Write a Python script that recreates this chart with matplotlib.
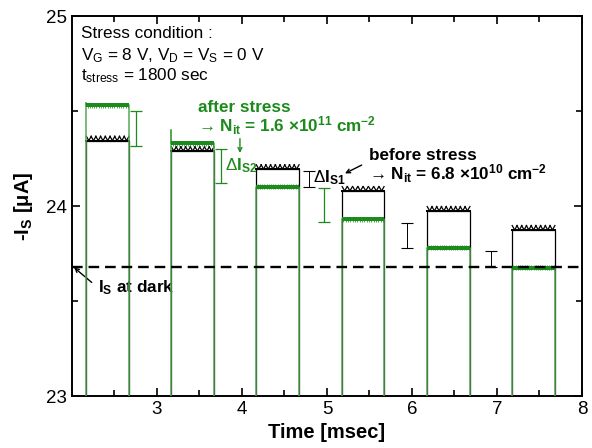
import numpy as np
import matplotlib
matplotlib.use("Agg")
import matplotlib.pyplot as plt
from matplotlib import patheffects as pe

plt.rcParams['font.family'] = ['Liberation Sans', 'DejaVu Sans']
plt.rcParams['mathtext.fontset'] = 'custom'
plt.rcParams['mathtext.rm'] = 'Liberation Sans'
plt.rcParams['mathtext.it'] = 'Liberation Sans:italic'
plt.rcParams['mathtext.bf'] = 'Liberation Sans:bold'

# ---- data ----
pulse_start = [2.17, 3.17, 4.17, 5.18, 6.18, 7.18]      # ms
pulse_end = [2.67, 3.67, 4.67, 5.67, 6.68, 7.68]        # ms
baseline_off = 22.5                                      # current between pulses (off-scale)
before_level = [24.345, 24.29, 24.195, 24.08, 23.975, 23.875]  # uA, before stress
after_level = [24.53, 24.33, 24.10, 23.93, 23.78, 23.675]      # uA, after stress
after_edge_peak = [24.545, 24.40, 24.10, 23.93, 23.78, 23.675] # overshoot of rising edge
dark_level = 23.68

# difference markers (x, low, high)
green_bar_x = [2.75, 3.75, 4.96]
green_bar_lo = [24.317, 24.12, 23.917]
green_bar_hi = [24.503, 24.298, 24.096]
black_bar_x = [4.79, 5.94, 6.93]
black_bar_lo = [24.10, 23.78, 23.68]
black_bar_hi = [24.184, 23.912, 23.765]

x_ticks = [3, 4, 5, 6, 7, 8]
y_ticks = [23, 24, 25]

GREEN = '#1c8a1c'
GREEN_EDGE = '#55a855'


def step_arrays(levels, peaks=None):
    if peaks is None:
        peaks = levels
    xs, ys = [], []
    for s, e, lv, pk in zip(pulse_start, pulse_end, levels, peaks):
        xs += [s, s, s, e, e, np.nan]
        ys += [baseline_off, pk, lv, lv, baseline_off, np.nan]
    return np.array(xs), np.array(ys)


fig = plt.figure(figsize=(5.92, 4.48), dpi=100)
ax = fig.add_axes([0.1216, 0.116, 0.8615, 0.848])

# black (before stress) square wave
bx, by = step_arrays(before_level)
ax.plot(bx, by, color='black', lw=0.9, zorder=2)
zig = [pe.withTickedStroke(spacing=3.4, angle=60, length=1.05, linewidth=0.9),
       pe.withTickedStroke(spacing=3.4, angle=120, length=1.05, linewidth=0.9),
       pe.Normal()]
for s, e, lv in zip(pulse_start, pulse_end, before_level):
    ax.plot([s, e], [lv, lv], color='black', lw=1.3, zorder=3, path_effects=zig)

# green (after stress) square wave
gx, gy = step_arrays(after_level, after_edge_peak)
ax.plot(gx, gy, color=GREEN_EDGE, lw=1.1, zorder=4)
fuzz = [pe.withTickedStroke(spacing=1.6, angle=90, length=1.2, linewidth=0.6,
                            foreground='#2e9a2e'),
        pe.withTickedStroke(spacing=1.6, angle=-90, length=1.0, linewidth=0.6,
                            foreground='#2e9a2e'),
        pe.Normal()]
for s, e, lv in zip(pulse_start, pulse_end, after_level):
    ax.plot([s, e], [lv, lv], color=GREEN, lw=2.8, zorder=5, solid_capstyle='butt',
            path_effects=fuzz)

# dark current
ax.axhline(dark_level, color='black', lw=1.7, ls=(0, (4.5, 2.5)), zorder=6)

# difference markers
for x, lo, hi in zip(green_bar_x, green_bar_lo, green_bar_hi):
    ax.errorbar([x], [(lo + hi) / 2], yerr=[(hi - lo) / 2], color=GREEN,
                lw=0.9, capsize=4.5, capthick=0.9, zorder=7)
for x, lo, hi in zip(black_bar_x, black_bar_lo, black_bar_hi):
    ax.errorbar([x], [(lo + hi) / 2], yerr=[(hi - lo) / 2], color='black',
                lw=0.7, capsize=4.5, capthick=0.8, zorder=7)

# texts
fs = 12.3
ax.text(2.106, 24.884, 'Stress condition :', fontsize=fs, va='baseline')
ax.text(2.106, 24.768, r'V$_\mathrm{G}$ = 8 V, V$_\mathrm{D}$ = V$_\mathrm{S}$ = 0 V',
        fontsize=fs, va='baseline')
ax.text(2.106, 24.663, r't$_\mathrm{stress}$ = 1800 sec', fontsize=fs, va='baseline')

ax.text(3.486, 24.496, 'after stress', fontsize=fs, fontweight='bold',
        color=GREEN, va='baseline')
ax.text(3.486, 24.391,
        '\u2192 N$_\\mathbf{it}$ = 1.6 \u00d710$^\\mathbf{11}$ cm$^\\mathbf{-2}$',
        fontsize=fs, fontweight='bold', color=GREEN, va='baseline')
ax.annotate('', xy=(3.976, 24.28), xytext=(3.976, 24.355),
            arrowprops=dict(arrowstyle='->', color=GREEN, lw=1.0,
                            shrinkA=0, shrinkB=0, mutation_scale=7))
ax.text(3.80, 24.19, r'$\Delta$I$_\mathbf{S2}$', fontsize=fs, fontweight='bold',
        color=GREEN, va='baseline')

ax.text(4.83, 24.125, r'$\Delta$I$_\mathbf{S1}$', fontsize=fs, fontweight='bold',
        color='black', va='baseline')
ax.text(5.50, 24.24, 'before stress', fontsize=fs, fontweight='bold', va='baseline')
ax.text(5.50, 24.137,
        '\u2192 N$_\\mathbf{it}$ = 6.8 \u00d710$^\\mathbf{10}$ cm$^\\mathbf{-2}$',
        fontsize=fs, fontweight='bold', va='baseline')
ax.annotate('', xy=(5.212, 24.172), xytext=(5.408, 24.216),
            arrowprops=dict(arrowstyle='->', color='black', lw=1.0,
                            shrinkA=0, shrinkB=0, mutation_scale=7))

ax.text(2.31, 23.546, r'I$_\mathbf{S}$ at dark', fontsize=fs, fontweight='bold',
        va='baseline')
ax.annotate('', xy=(2.024, 23.677), xytext=(2.232, 23.598),
            arrowprops=dict(arrowstyle='->', color='black', lw=1.0,
                            shrinkA=0, shrinkB=0, mutation_scale=7))

# axes formatting
ax.set_xlim(2, 8)
ax.set_ylim(23, 25)
ax.set_xticks(x_ticks)
ax.set_xticks(np.arange(2.5, 8, 1.0), minor=True)
ax.set_yticks(y_ticks)
ax.set_yticks([23.5, 24.5], minor=True)
ax.tick_params(which='both', direction='in', top=True, right=True,
               labelsize=13.5, width=1.2)
ax.tick_params(which='major', length=6)
ax.tick_params(which='minor', length=4)
for sp in ax.spines.values():
    sp.set_linewidth(1.4)

ax.set_xlabel('Time [msec]', fontsize=14.5, fontweight='bold', labelpad=4)
ax.set_ylabel(r'-I$_\mathbf{S}$ [$\mathbf{\mu}$A]', fontsize=14.5, fontweight='bold',
              labelpad=8)

fig.savefig('out.png', dpi=100)
